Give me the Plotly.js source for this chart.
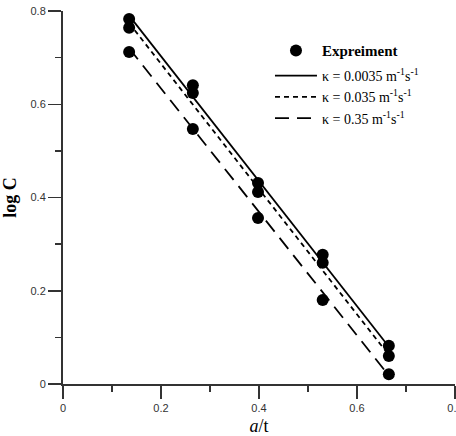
<!DOCTYPE html>
<html>
<head>
<meta charset="utf-8">
<script src="https://cdn.plot.ly/plotly-3.0.1.min.js"></script>
<style>html,body{margin:0;padding:0;background:#fff;}#chart{width:456px;height:436px;}</style>
</head>
<body>
<div id="chart"></div>
<script>
// Experimental points (a/t, log C)
const expX = [0.135, 0.135, 0.135, 0.265, 0.265, 0.265, 0.398, 0.398, 0.398, 0.530, 0.530, 0.530, 0.665, 0.665, 0.665];
const expY = [0.783, 0.764, 0.712, 0.641, 0.624, 0.547, 0.431, 0.412, 0.356, 0.277, 0.260, 0.180, 0.082, 0.060, 0.021];
// Model lines
const lineX = [0.135, 0.665];
const k0035 = [0.790, 0.080];
const k035 = [0.774, 0.062];
const k35 = [0.720, 0.018];
const names = ['Expreiment', 'κ = 0.0035 m<sup>-1</sup>s<sup>-1</sup>', 'κ = 0.035 m<sup>-1</sup>s<sup>-1</sup>', 'κ = 0.35 m<sup>-1</sup>s<sup>-1</sup>'];
const xTicks = [0, 0.2, 0.4, 0.6, 0.8];
const yTicks = [0, 0.2, 0.4, 0.6, 0.8];

const traces = [
  {x: expX, y: expY, type: 'scatter', mode: 'markers', name: names[0], legendgroup: 'a',
   marker: {color: '#000', size: 12}, cliponaxis: false},
  {x: lineX, y: k0035, type: 'scatter', mode: 'lines', name: names[1], legendgroup: 'b',
   line: {color: '#000', width: 1.8, dash: 'solid'}},
  {x: lineX, y: k035, type: 'scatter', mode: 'lines', name: names[2], legendgroup: 'b',
   line: {color: '#000', width: 1.8, dash: '5px,4px'}},
  {x: lineX, y: k35, type: 'scatter', mode: 'lines', name: names[3], legendgroup: 'b',
   line: {color: '#000', width: 1.8, dash: '14px,8px'}}
];

const axisCommon = {
  range: [0, 0.8], showgrid: false, zeroline: false, showline: true,
  linecolor: '#333', linewidth: 2, ticks: 'outside', ticklen: 13, tickwidth: 1.5,
  tickcolor: '#333', tickfont: {family: 'Liberation Sans, Arial', size: 11, color: '#333'},
  minor: {dtick: 0.1, ticks: 'outside', ticklen: 6, tickwidth: 1.5, tickcolor: '#333'},
  ticklabeloverflow: 'allow'
};

const layout = {
  width: 456, height: 436,
  margin: {l: 63, r: 1, t: 11, b: 52},
  paper_bgcolor: '#fff', plot_bgcolor: '#fff',
  showlegend: true,
  xaxis: Object.assign({}, axisCommon, {
    tickvals: xTicks, ticktext: xTicks.map(v => String(v)),
    title: {text: '<i>a</i>/t', font: {family: 'Liberation Serif, Times New Roman', size: 18, color: '#000'}, standoff: 8}
  }),
  yaxis: Object.assign({}, axisCommon, {
    tickvals: yTicks, ticktext: yTicks.map(v => String(v)),
    title: {text: '<b>log C</b>', font: {family: 'Liberation Serif, Times New Roman', size: 18, color: '#000'}, standoff: 12}
  }),
  legend: {
    x: 0.528, y: 0.936, xanchor: 'left', yanchor: 'top',
    bgcolor: 'rgba(0,0,0,0)', borderwidth: 0,
    font: {family: 'Liberation Serif, Times New Roman', size: 14, color: '#000'},
    itemwidth: 42, tracegroupgap: 4, traceorder: 'grouped'
  }
};

Plotly.newPlot('chart', traces, layout, {displayModeBar: false, staticPlot: true}).then(() => {
  // make the Experiment legend label bold
  const texts = document.querySelectorAll('.legendtext');
  if (texts.length) {
    texts[0].style.fontWeight = 'bold';
    texts[0].style.fontSize = '15px';
  }
});
</script>
</body>
</html>
